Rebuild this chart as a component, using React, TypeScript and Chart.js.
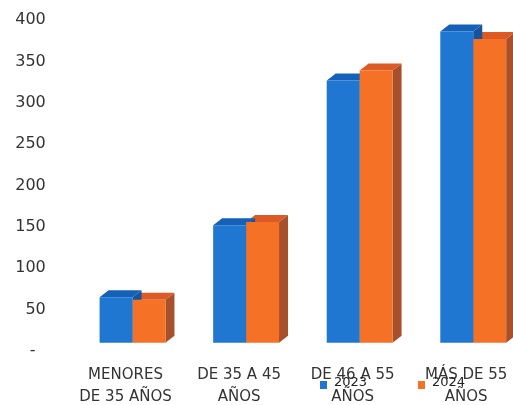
import React, { useEffect, useRef } from 'react';
import { Chart, registerables } from 'chart.js';

Chart.register(...registerables);

const categories: string[][] = [
  ['MENORES', 'DE 35 AÑOS'],
  ['DE 35 A 45', 'AÑOS'],
  ['DE 46 A 55', 'AÑOS'],
  ['MÁS DE 55', 'AÑOS'],
];
const seriesNames = ['2023', '2024'];
const values2023 = [65, 152, 327, 386];
const values2024 = [62, 156, 339, 377];
const yMin = 0;
const yMax = 400;
const yStep = 50;

const FRONT = ['#1f77d2', '#f47126'];
const TOP = ['#1661b8', '#dc5a26'];
const SIDE = ['#15559e', '#a8502c'];
const DX = 9;
const DY = 7;

const bar3d = {
  id: 'bar3d',
  beforeDatasetsDraw(chart: any) {
    const ctx = chart.ctx;
    ctx.save();
    for (let d = chart.data.datasets.length - 1; d >= 0; d--) {
      const meta = chart.getDatasetMeta(d);
      meta.data.forEach((el: any) => {
        const p = el.getProps(['x', 'y', 'base', 'width'], true);
        const l = p.x - p.width / 2;
        const r = p.x + p.width / 2;
        const t = p.y;
        const b = p.base;
        ctx.fillStyle = SIDE[d];
        ctx.beginPath();
        ctx.moveTo(r, t);
        ctx.lineTo(r + DX, t - DY);
        ctx.lineTo(r + DX, b - DY);
        ctx.lineTo(r, b);
        ctx.closePath();
        ctx.fill();
        ctx.fillStyle = TOP[d];
        ctx.beginPath();
        ctx.moveTo(l, t);
        ctx.lineTo(r, t);
        ctx.lineTo(r + DX, t - DY);
        ctx.lineTo(l + DX, t - DY);
        ctx.closePath();
        ctx.fill();
      });
    }
    ctx.restore();
  },
};

export default function App() {
  const ref = useRef<HTMLCanvasElement | null>(null);

  useEffect(() => {
    if (!ref.current) return;
    const chart = new Chart(ref.current, {
      type: 'bar',
      data: {
        labels: categories,
        datasets: [
          {
            label: seriesNames[0],
            data: values2023,
            backgroundColor: FRONT[0],
            base: 10,
            categoryPercentage: 0.58,
            barPercentage: 1,
          } as any,
          {
            label: seriesNames[1],
            data: values2024,
            backgroundColor: FRONT[1],
            base: 10,
            categoryPercentage: 0.58,
            barPercentage: 1,
          } as any,
        ],
      },
      options: {
        animation: false,
        responsive: false,
        layout: { padding: { left: 0, right: 10, top: 20, bottom: 0 } },
        plugins: { legend: { display: false }, tooltip: { enabled: false } },
        scales: {
          x: {
            grid: { display: false, drawTicks: false },
            border: { display: false },
            ticks: {
              font: { family: 'DejaVu Sans', size: 15, lineHeight: 1.45 },
              color: '#333333',
              padding: 13,
              labelOffset: -7,
              maxRotation: 0,
              autoSkip: false,
            },
            afterFit: (s: any) => {
              s.height = 54;
            },
          },
          y: {
            min: yMin,
            max: yMax,
            grid: { display: false, drawTicks: false },
            border: { display: false },
            ticks: {
              stepSize: yStep,
              font: { family: 'DejaVu Sans', size: 16 },
              color: '#333333',
              padding: 30,
              callback: (v: any) => (Number(v) === 0 ? '-  ' : String(v)),
            },
            afterFit: (s: any) => {
              s.width = 75.75;
              s.paddingTop = 0;
              s.paddingBottom = 0;
            },
          },
        },
      },
      plugins: [bar3d],
    });
    return () => chart.destroy();
  }, []);

  const legendText: React.CSSProperties = {
    position: 'absolute',
    fontFamily: 'DejaVu Sans',
    fontSize: 13,
    color: '#222',
    lineHeight: '14px',
    top: 375,
  };
  const sq = (c: string, left: number): React.CSSProperties => ({
    position: 'absolute',
    left,
    top: 381,
    width: 7,
    height: 8,
    background: c,
  });

  return (
    <div
      style={{
        position: 'fixed',
        left: 0,
        top: 0,
        width: 513,
        height: 405,
        overflow: 'hidden',
        background: '#fff',
      }}
    >
      <canvas ref={ref} width={540} height={405} style={{ position: 'absolute', left: 0, top: 0 }} />
      <div style={sq(FRONT[0], 320)} />
      <div style={{ ...legendText, left: 334 }}>{seriesNames[0]}</div>
      <div style={sq(FRONT[1], 418)} />
      <div style={{ ...legendText, left: 432 }}>{seriesNames[1]}</div>
    </div>
  );
}
